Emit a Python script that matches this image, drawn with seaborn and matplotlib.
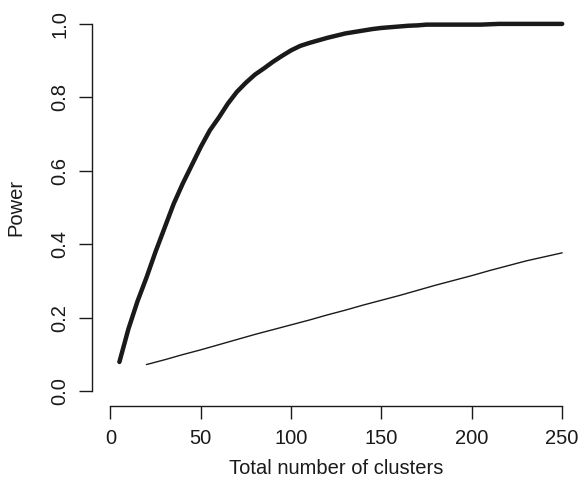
import matplotlib
matplotlib.use("Agg")
import matplotlib.pyplot as plt
import pandas as pd
import seaborn as sns

sns.set_theme(style="ticks")
plt.rcParams["font.family"] = ["Liberation Sans", "DejaVu Sans"]

# %%
# power curve, thick line
n_thick = [5, 10, 15, 20, 25, 30, 35, 40, 45, 50, 55, 60, 65, 70, 75, 80, 85, 90, 95, 100,
           105, 110, 115, 120, 125, 130, 135, 140, 145, 150, 155, 160, 165, 170, 175, 180,
           185, 190, 195, 200, 205, 210, 215, 220, 225, 230, 235, 240, 245, 250]
power_thick = [0.08, 0.17, 0.245, 0.31, 0.38, 0.445, 0.51, 0.565, 0.615, 0.665, 0.71, 0.745,
               0.783, 0.815, 0.84, 0.862, 0.879, 0.897, 0.913, 0.928, 0.94, 0.948, 0.955,
               0.962, 0.968, 0.974, 0.978, 0.982, 0.986, 0.989, 0.991, 0.993, 0.995, 0.996,
               0.998, 0.998, 0.998, 0.998, 0.998, 0.998, 0.998, 0.999, 1.0, 1.0, 1.0, 1.0,
               1.0, 1.0, 1.0, 1.0]

# thin line
n_thin = [20, 30, 40, 50, 60, 70, 80, 90, 100, 110, 120, 130, 140, 150, 160, 170, 180, 190,
          200, 210, 220, 230, 240, 250]
power_thin = [0.073, 0.086, 0.100, 0.113, 0.127, 0.141, 0.155, 0.168, 0.181, 0.194, 0.208,
              0.221, 0.235, 0.248, 0.261, 0.275, 0.289, 0.302, 0.315, 0.329, 0.342, 0.355,
              0.366, 0.377]

x_ticks = [0, 50, 100, 150, 200, 250]
y_ticks = [0.0, 0.2, 0.4, 0.6, 0.8, 1.0]

# %%
thick = pd.DataFrame({"n": n_thick, "power": power_thick})
thin = pd.DataFrame({"n": n_thin, "power": power_thin})

fig = plt.figure(figsize=(5.83, 4.84), dpi=100)
ax = fig.add_axes([0.1583, 0.161, 0.837, 0.820])

sns.lineplot(data=thick, x="n", y="power", ax=ax, color="#1a1a1a", lw=3.2, solid_capstyle="round")
sns.lineplot(data=thin, x="n", y="power", ax=ax, color="#1a1a1a", lw=1.0)

ax.set_xlim(-10, 260)
ax.set_ylim(-0.04, 1.04)
ax.set_xticks(x_ticks)
ax.set_yticks(y_ticks)
ax.set_yticklabels([f"{v:.1f}" for v in y_ticks], rotation=90, va="center")

for side in ["top", "right"]:
    ax.spines[side].set_visible(False)
ax.spines["bottom"].set_bounds(0, 250)
ax.spines["left"].set_bounds(0, 1)
for side in ["bottom", "left"]:
    ax.spines[side].set_color("#1a1a1a")
    ax.spines[side].set_linewidth(1.0)

fs = 14.5
ax.tick_params(axis="x", length=9.4, width=1.0, color="#1a1a1a", pad=7, labelsize=fs, labelcolor="#1a1a1a")
ax.tick_params(axis="y", length=9.4, width=1.0, color="#1a1a1a", pad=7, labelsize=fs, labelcolor="#1a1a1a")

ax.set_xlabel("Total number of clusters", fontsize=fs, color="#1a1a1a", labelpad=8)
ax.set_ylabel("Power", fontsize=fs, color="#1a1a1a", labelpad=18)

fig.savefig("out.png", dpi=100)
